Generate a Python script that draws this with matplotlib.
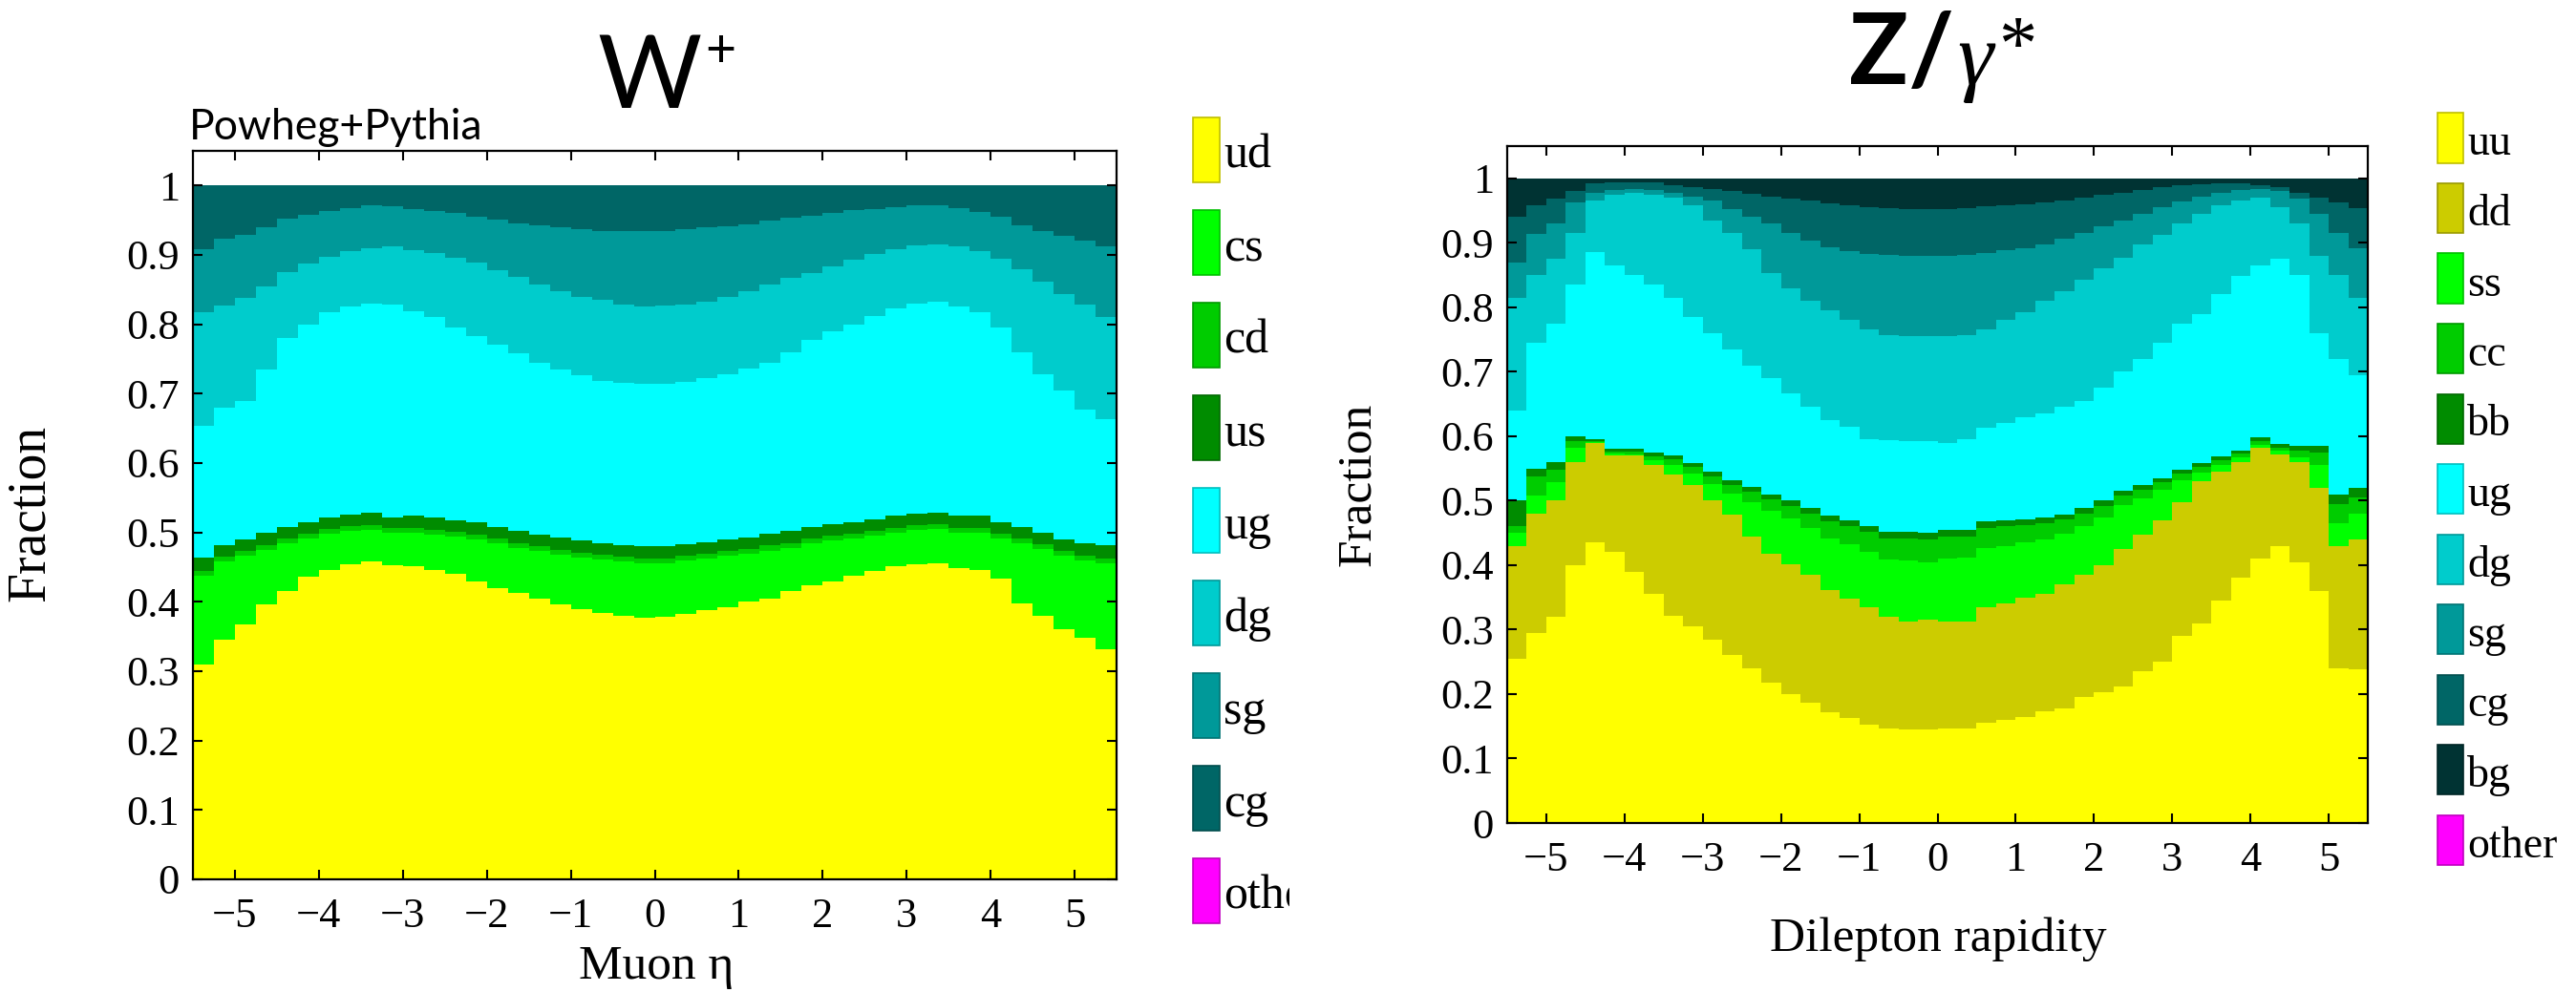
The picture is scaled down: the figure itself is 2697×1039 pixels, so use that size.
#!/usr/bin/env python

import numpy as np
import matplotlib as mpl
import matplotlib.pyplot as plt
from matplotlib.patches import Rectangle
from matplotlib.colors import to_rgb

mpl.rc('font', family='Liberation Serif')
mpl.rc('mathtext', fontset='stix')

# bin edges in eta / rapidity (0.25 wide)
eta_lo, eta_hi, nbins = -5.5, 5.5, 44

# ---- W+ : cumulative fraction at the top of each channel ----
w_ud = [0.310, 0.345, 0.368, 0.396, 0.416, 0.436, 0.446, 0.454, 0.458, 0.453, 0.452,
        0.446, 0.440, 0.430, 0.420, 0.413, 0.404, 0.396, 0.389, 0.384, 0.380, 0.377,
        0.378, 0.382, 0.388, 0.392, 0.400, 0.405, 0.416, 0.424, 0.430, 0.437, 0.444,
        0.451, 0.454, 0.456, 0.449, 0.446, 0.433, 0.398, 0.380, 0.360, 0.348, 0.331]
w_cs = [0.437, 0.458, 0.466, 0.475, 0.484, 0.491, 0.498, 0.502, 0.504, 0.499, 0.500,
        0.497, 0.494, 0.490, 0.484, 0.478, 0.473, 0.468, 0.464, 0.461, 0.458, 0.456,
        0.456, 0.459, 0.462, 0.466, 0.469, 0.474, 0.478, 0.484, 0.488, 0.491, 0.495,
        0.500, 0.503, 0.505, 0.500, 0.500, 0.491, 0.484, 0.476, 0.466, 0.460, 0.456]
w_cd = [0.444, 0.465, 0.473, 0.482, 0.491, 0.498, 0.505, 0.509, 0.511, 0.506, 0.507,
        0.504, 0.501, 0.497, 0.491, 0.485, 0.480, 0.475, 0.471, 0.468, 0.465, 0.463,
        0.463, 0.466, 0.469, 0.473, 0.476, 0.481, 0.485, 0.491, 0.495, 0.498, 0.502,
        0.507, 0.510, 0.512, 0.507, 0.507, 0.498, 0.491, 0.483, 0.473, 0.467, 0.463]
w_us = [0.464, 0.482, 0.490, 0.499, 0.508, 0.515, 0.522, 0.526, 0.528, 0.522, 0.524,
        0.521, 0.518, 0.514, 0.508, 0.502, 0.497, 0.492, 0.488, 0.485, 0.482, 0.480,
        0.480, 0.483, 0.486, 0.490, 0.493, 0.498, 0.502, 0.508, 0.512, 0.515, 0.519,
        0.524, 0.527, 0.529, 0.524, 0.524, 0.515, 0.508, 0.500, 0.490, 0.485, 0.482]
w_ug = [0.653, 0.680, 0.690, 0.735, 0.780, 0.800, 0.818, 0.826, 0.830, 0.829, 0.819,
        0.810, 0.795, 0.783, 0.770, 0.758, 0.745, 0.735, 0.727, 0.719, 0.716, 0.714,
        0.714, 0.717, 0.722, 0.728, 0.736, 0.745, 0.760, 0.778, 0.790, 0.800, 0.812,
        0.823, 0.830, 0.832, 0.826, 0.817, 0.795, 0.760, 0.728, 0.705, 0.677, 0.663]
w_dg = [0.817, 0.827, 0.838, 0.855, 0.875, 0.888, 0.897, 0.906, 0.910, 0.913, 0.907,
        0.903, 0.896, 0.889, 0.878, 0.868, 0.858, 0.848, 0.840, 0.835, 0.828, 0.826,
        0.827, 0.829, 0.833, 0.840, 0.848, 0.857, 0.867, 0.874, 0.883, 0.893, 0.901,
        0.908, 0.914, 0.915, 0.912, 0.906, 0.895, 0.880, 0.862, 0.844, 0.828, 0.811]
w_sg = [0.908, 0.923, 0.929, 0.940, 0.952, 0.958, 0.963, 0.968, 0.971, 0.970, 0.966,
        0.963, 0.960, 0.955, 0.951, 0.946, 0.942, 0.940, 0.937, 0.935, 0.934, 0.934,
        0.934, 0.937, 0.940, 0.941, 0.944, 0.949, 0.953, 0.957, 0.961, 0.964, 0.966,
        0.969, 0.971, 0.971, 0.967, 0.962, 0.955, 0.942, 0.934, 0.928, 0.921, 0.912]
w_cg = 1.0

w_labels = ['ud', 'cs', 'cd', 'us', 'ug', 'dg', 'sg', 'cg', 'other']
w_colors = ['#ffff00', '#00ff00', '#00cc00', '#008c00', '#00ffff',
            '#00cccc', '#009999', '#006666', '#ff00ff']

# ---- Z/gamma* : cumulative fraction at the top of each channel ----
z_uu = [0.255, 0.295, 0.320, 0.400, 0.435, 0.420, 0.390, 0.355, 0.322, 0.305, 0.285,
        0.260, 0.240, 0.218, 0.200, 0.186, 0.172, 0.163, 0.152, 0.147, 0.145, 0.145,
        0.147, 0.147, 0.155, 0.160, 0.165, 0.174, 0.178, 0.195, 0.203, 0.212, 0.236,
        0.250, 0.290, 0.310, 0.345, 0.380, 0.410, 0.430, 0.405, 0.360, 0.240, 0.238]
z_dd = [0.430, 0.480, 0.500, 0.560, 0.590, 0.570, 0.570, 0.555, 0.540, 0.525, 0.500,
        0.478, 0.445, 0.418, 0.402, 0.385, 0.362, 0.348, 0.335, 0.320, 0.313, 0.315,
        0.312, 0.313, 0.334, 0.340, 0.350, 0.356, 0.370, 0.385, 0.400, 0.425, 0.447,
        0.470, 0.498, 0.530, 0.545, 0.560, 0.582, 0.572, 0.560, 0.520, 0.430, 0.440]
z_ss = [0.450, 0.508, 0.528, 0.582, 0.591, 0.573, 0.572, 0.563, 0.556, 0.542, 0.526,
        0.511, 0.498, 0.484, 0.472, 0.457, 0.442, 0.432, 0.420, 0.409, 0.408, 0.405,
        0.410, 0.412, 0.427, 0.430, 0.435, 0.440, 0.449, 0.460, 0.474, 0.493, 0.504,
        0.517, 0.532, 0.544, 0.555, 0.567, 0.587, 0.577, 0.567, 0.555, 0.465, 0.480]
z_cc = [0.460, 0.538, 0.548, 0.592, 0.592, 0.576, 0.576, 0.569, 0.564, 0.552, 0.538,
        0.525, 0.514, 0.502, 0.492, 0.480, 0.468, 0.461, 0.451, 0.442, 0.442, 0.440,
        0.444, 0.445, 0.458, 0.460, 0.462, 0.465, 0.471, 0.480, 0.492, 0.508, 0.517,
        0.529, 0.542, 0.553, 0.563, 0.573, 0.592, 0.582, 0.577, 0.575, 0.495, 0.505]
z_bb = [0.500, 0.550, 0.560, 0.600, 0.595, 0.580, 0.580, 0.574, 0.570, 0.558, 0.545,
        0.532, 0.522, 0.510, 0.500, 0.488, 0.477, 0.470, 0.460, 0.452, 0.452, 0.450,
        0.454, 0.455, 0.468, 0.469, 0.471, 0.474, 0.479, 0.488, 0.500, 0.515, 0.524,
        0.535, 0.548, 0.558, 0.568, 0.578, 0.598, 0.588, 0.585, 0.585, 0.510, 0.520]
z_ug = [0.640, 0.745, 0.775, 0.835, 0.885, 0.865, 0.850, 0.836, 0.815, 0.785, 0.760,
        0.735, 0.710, 0.690, 0.667, 0.645, 0.625, 0.615, 0.595, 0.594, 0.592, 0.593,
        0.589, 0.595, 0.613, 0.620, 0.630, 0.635, 0.645, 0.655, 0.675, 0.700, 0.720,
        0.745, 0.775, 0.790, 0.820, 0.848, 0.865, 0.875, 0.850, 0.760, 0.720, 0.695]
z_dg = [0.815, 0.850, 0.875, 0.915, 0.965, 0.975, 0.978, 0.975, 0.970, 0.958, 0.935,
        0.915, 0.890, 0.853, 0.830, 0.810, 0.795, 0.780, 0.765, 0.757, 0.755, 0.756,
        0.755, 0.757, 0.765, 0.780, 0.793, 0.810, 0.825, 0.842, 0.860, 0.877, 0.897,
        0.913, 0.930, 0.945, 0.958, 0.966, 0.970, 0.955, 0.930, 0.880, 0.850, 0.815]
z_sg = [0.870, 0.914, 0.930, 0.963, 0.977, 0.982, 0.983, 0.982, 0.978, 0.972, 0.966,
        0.952, 0.940, 0.930, 0.915, 0.903, 0.893, 0.887, 0.883, 0.881, 0.880, 0.880,
        0.880, 0.881, 0.884, 0.888, 0.892, 0.898, 0.906, 0.915, 0.925, 0.935, 0.945,
        0.955, 0.964, 0.972, 0.978, 0.982, 0.983, 0.980, 0.968, 0.945, 0.915, 0.892]
z_cg = [0.940, 0.958, 0.968, 0.980, 0.992, 0.994, 0.994, 0.993, 0.990, 0.987, 0.983,
        0.980, 0.976, 0.972, 0.969, 0.965, 0.961, 0.958, 0.955, 0.953, 0.952, 0.952,
        0.952, 0.953, 0.956, 0.958, 0.960, 0.962, 0.966, 0.970, 0.974, 0.978, 0.982,
        0.986, 0.989, 0.991, 0.992, 0.992, 0.990, 0.986, 0.978, 0.970, 0.962, 0.954]
z_bg = 1.0

z_labels = ['uu', 'dd', 'ss', 'cc', 'bb', 'ug', 'dg', 'sg', 'cg', 'bg', 'other']
z_colors = ['#ffff00', '#cccc00', '#00ff00', '#00cc00', '#008c00', '#00ffff',
            '#00cccc', '#009999', '#006666', '#003333', '#ff00ff']

x_ticks = [-5, -4, -3, -2, -1, 0, 1, 2, 3, 4, 5]
y_ticks = [0, 0.1, 0.2, 0.3, 0.4, 0.5, 0.6, 0.7, 0.8, 0.9, 1]
y_ticklabels = ['0', '0.1', '0.2', '0.3', '0.4', '0.5', '0.6', '0.7', '0.8', '0.9', '1']

W, H = 2697, 1039


def fx(px):
    return px/W


def fy(py):
    return 1 - py/H


def draw_stack(ax, tops, colors):
    edges = np.linspace(eta_lo, eta_hi, nbins + 1)
    # draw from the top layer down, each filled from 0, so no seams
    for top, c in reversed(list(zip(tops, colors))):
        vals = np.broadcast_to(np.asarray(top, float), (nbins,))
        ax.stairs(vals, edges, baseline=0, fill=True, color=c, lw=0)


def style_axes(ax):
    ax.set_xlim(eta_lo, eta_hi)
    ax.set_ylim(0, 1.05)
    ax.set_xticks(x_ticks)
    ax.set_xticklabels([str(t).replace('-', '\u2212') for t in x_ticks])
    ax.set_yticks(y_ticks)
    ax.set_yticklabels(y_ticklabels)
    ax.tick_params(direction='in', top=True, right=True, length=7, width=1.5,
                   labelsize=32)
    ax.tick_params(axis='x', pad=14)
    ax.tick_params(axis='y', pad=10)
    for sp in ax.spines.values():
        sp.set_linewidth(1.6)


def draw_legend(fig, labels, colors, x0, y0, pitch, bw, bh, size, base, clip=None):
    for i, (lab, c) in enumerate(zip(labels, colors)):
        top = y0 + i*pitch
        edge = tuple(0.75*v for v in to_rgb(c))
        fig.add_artist(Rectangle(
            (fx(x0), fy(top + bh)), bw/W, bh/H,
            transform=fig.transFigure,
            facecolor=c,
            edgecolor=edge,
            lw=1.2,
        ))
        t = fig.text(fx(x0 + bw + 4), fy(top + bh - base), lab,
                     fontsize=size, va='baseline', ha='left')
        if clip is not None:
            t.set_clip_path(clip)


def main() -> None:

    fig = plt.figure(figsize=(W/100, H/100), dpi=100)

    # W+
    ax0 = fig.add_axes([fx(202), fy(921), (1169-202)/W, (921-158)/H])
    draw_stack(ax0, [w_ud, w_cs, w_cd, w_us, w_ug, w_dg, w_sg, w_cg], w_colors[:-1])
    style_axes(ax0)

    # Z/gamma*
    ax1 = fig.add_axes([fx(1578), fy(862), (2479-1578)/W, (862-153)/H])
    draw_stack(ax1, [z_uu, z_dd, z_ss, z_cc, z_bb, z_ug, z_dg, z_sg, z_cg, z_bg],
               z_colors[:-1])
    style_axes(ax1)

    # axis labels
    fig.text(fx(32), fy(537), 'Fraction', rotation=90, ha='center', va='center',
             fontsize=40)
    fig.text(fx(1422), fy(507), 'Fraction', rotation=90, ha='center', va='center',
             fontsize=37)
    fig.text(fx(687), fy(1025), 'Muon \u03b7', ha='center', va='baseline',
             fontsize=37)
    fig.text(fx(2029), fy(996), 'Dilepton rapidity', ha='center', va='baseline',
             fontsize=37)

    # titles
    fig.text(fx(680), fy(113), 'W', family='Lato', fontsize=76, ha='center',
             va='baseline')
    fig.text(fx(738), fy(70), '+', family='Lato', fontsize=40, ha='left',
             va='baseline')
    fig.text(fx(198), fy(146), 'Powheg+Pythia', family='Lato', fontsize=32,
             ha='left', va='baseline')
    fig.text(fx(1936), fy(88), 'Z/', family='Lato', fontweight='bold',
             fontsize=74, ha='left', va='baseline')
    fig.text(fx(2049), fy(88), '\u03b3', family='Liberation Serif',
             style='italic', fontsize=68, ha='left', va='baseline')
    fig.text(fx(2092), fy(72), '*', family='Liberation Serif', fontsize=58,
             ha='left', va='baseline')

    # legends
    clip = Rectangle((0, 0), fx(1350), 1, transform=fig.transFigure)
    draw_legend(fig, w_labels, w_colors, 1249, 123, 97, 28, 68, 36, 15, clip=clip)
    draw_legend(fig, z_labels, z_colors, 2552, 118.5, 73.5, 27, 52, 33, 8)

    fig.savefig('out.png', dpi=100)


if __name__ == '__main__':
    main()
